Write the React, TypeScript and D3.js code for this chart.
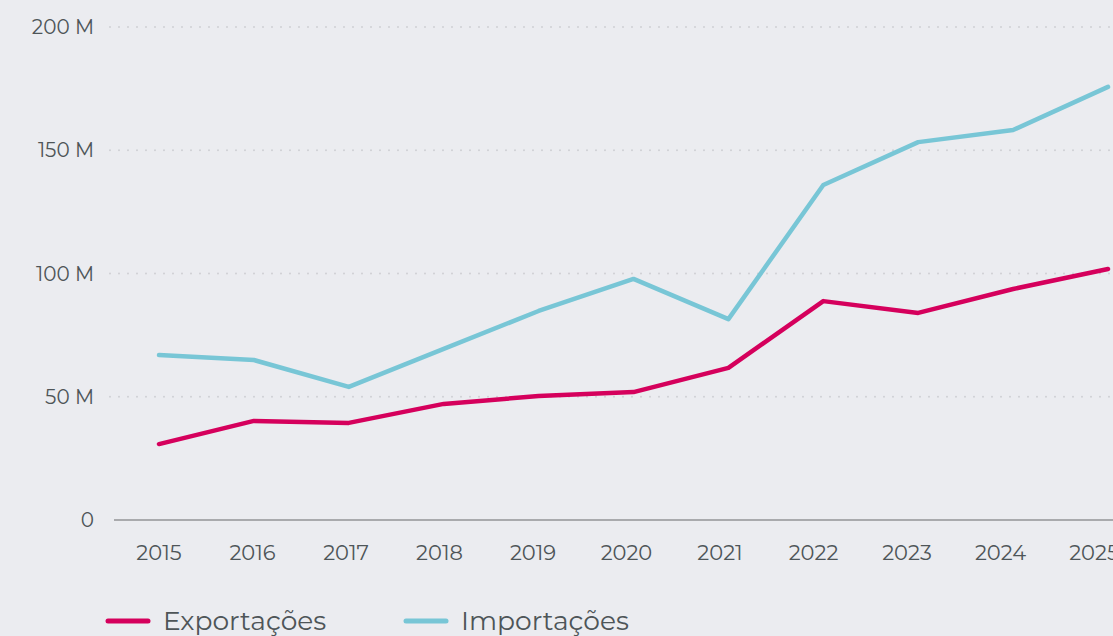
import React from "react";
import * as d3 from "d3";

const years = [2015, 2016, 2017, 2018, 2019, 2020, 2021, 2022, 2023, 2024, 2025];
const exportacoes = [30.8, 40.2, 39.4, 47.1, 50.3, 51.9, 61.7, 88.8, 84.0, 93.7, 101.8];
const importacoes = [66.9, 64.9, 54.0, 69.4, 84.8, 97.8, 81.5, 135.9, 153.3, 158.2, 175.7];
const yTicks = [0, 50, 100, 150, 200];
const seriesNames = ["Exportações", "Importações"];
const seriesColors = ["#D5005C", "#78C6D6"];

const W = 1113;
const H = 636;
const FONT = "Montserrat, Inter, 'Open Sans', sans-serif";

export default function App() {
  const x = d3.scaleLinear().domain([2015, 2025]).range([159, 1108]);
  const xLabel = d3.scaleLinear().domain([2015, 2025]).range([159, 1094]);
  const y = d3.scaleLinear().domain([0, 200]).range([520, 27]);
  const line = d3
    .line<number>()
    .x((_, i) => x(years[i]))
    .y((d) => y(d));
  const data = [exportacoes, importacoes];
  const legendX = [108, 406];

  return (
    <svg
      width={W}
      height={H}
      style={{ position: "absolute", left: 0, top: 0, display: "block" }}
    >
      <rect x={0} y={0} width={W} height={H} fill="#EBECF0" />
      {yTicks.map((t) =>
        t === 0 ? null : (
          <line
            key={"g" + t}
            x1={110}
            x2={W}
            y1={y(t)}
            y2={y(t)}
            stroke="#CFD0D4"
            strokeWidth={2}
            strokeDasharray="0 9"
            strokeLinecap="round"
          />
        )
      )}
      <line x1={114} x2={W} y1={y(0)} y2={y(0)} stroke="#A9AAAD" strokeWidth={2} />
      {yTicks.map((t) => (
        <text
          key={"t" + t}
          x={94}
          y={y(t)}
          dy="0.35em"
          textAnchor="end"
          fontFamily={FONT}
          fontSize={20}
          fill="#4E5558"
        >
          {t === 0 ? "0" : `${t} M`}
        </text>
      ))}
      {years.map((yr) => (
        <text
          key={"x" + yr}
          x={xLabel(yr)}
          y={553}
          dy="0.35em"
          textAnchor="middle"
          fontFamily={FONT}
          fontSize={21}
          fill="#4E5558"
        >
          {yr}
        </text>
      ))}
      {data.map((d, i) => (
        <path
          key={"l" + i}
          d={line(d) || ""}
          fill="none"
          stroke={seriesColors[i]}
          strokeWidth={4.5}
          strokeLinecap="round"
          strokeLinejoin="round"
        />
      ))}
      {seriesNames.map((n, i) => (
        <g key={"lg" + i}>
          <line
            x1={legendX[i]}
            x2={legendX[i] + 40}
            y1={621}
            y2={621}
            stroke={seriesColors[i]}
            strokeWidth={5}
            strokeLinecap="round"
          />
          <text
            x={legendX[i] + 55}
            y={621}
            dy="0.35em"
            fontFamily={FONT}
            fontSize={26.5}
            fill="#4E5558"
          >
            {n}
          </text>
        </g>
      ))}
    </svg>
  );
}
